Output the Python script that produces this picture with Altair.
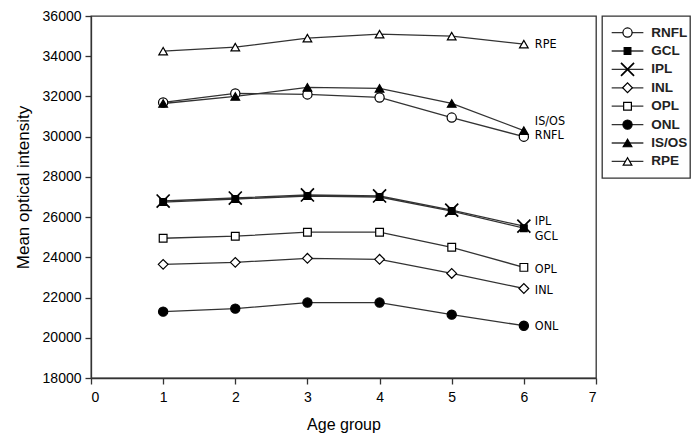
import altair as alt
import pandas as pd

ages = [1, 2, 3, 4, 5, 6]
series = ["RNFL", "GCL", "IPL", "INL", "OPL", "ONL", "IS/OS", "RPE"]

RNFL = [31700, 32150, 32100, 31950, 30950, 30000]
GCL = [26750, 26900, 27050, 27000, 26300, 25450]
IPL = [26800, 26950, 27100, 27050, 26350, 25550]
INL = [23650, 23750, 23950, 23900, 23200, 22450]
OPL = [24950, 25050, 25250, 25250, 24500, 23500]
ONL = [21300, 21450, 21750, 21750, 21150, 20600]
ISOS = [31650, 32000, 32450, 32400, 31650, 30300]
RPE = [34250, 34450, 34900, 35100, 35000, 34600]

values = {"RNFL": RNFL, "GCL": GCL, "IPL": IPL, "INL": INL, "OPL": OPL,
          "ONL": ONL, "IS/OS": ISOS, "RPE": RPE}

# styling (not data)
X_PATH = "M-1,-1L1,1M-1,1L1,-1"
style = {
    "RNFL": dict(shape="circle", fill="white", size=85, strokeWidth=1.2),
    "GCL": dict(shape="square", fill="black", size=45, strokeWidth=1.2),
    "IPL": dict(shape=X_PATH, fill="transparent", size=170, strokeWidth=1.7),
    "INL": dict(shape="diamond", fill="white", size=95, strokeWidth=1.2),
    "OPL": dict(shape="square", fill="white", size=60, strokeWidth=1.2),
    "ONL": dict(shape="circle", fill="black", size=85, strokeWidth=1.2),
    "IS/OS": dict(shape="triangle-up", fill="black", size=75, strokeWidth=1.2),
    "RPE": dict(shape="triangle-up", fill="white", size=75, strokeWidth=1.2),
}
label_dy = {"RNFL": -2, "GCL": 8, "IPL": -5, "INL": 1, "OPL": 2, "ONL": 0, "IS/OS": -10, "RPE": 0}

rows = []
for s in series:
    for a, v in zip(ages, values[s]):
        rows.append({"series": s, "age": a, "value": v})
df = pd.DataFrame(rows)

INK = "#333333"
FONT = "Liberation Sans"
NARROW = "DejaVu Sans Condensed, Liberation Sans"

xscale = alt.Scale(domain=[0, 7], nice=False, zero=False)
yscale = alt.Scale(domain=[18000, 36000], nice=False, zero=False)

x_enc = alt.X("age:Q", scale=xscale, title="Age group",
              axis=alt.Axis(values=list(range(0, 8)), format="d", grid=False))
y_enc = alt.Y("value:Q", scale=yscale, title="Mean optical intensity",
              axis=alt.Axis(values=list(range(18000, 36001, 2000)), format="d", grid=False,
                            titleY=171))

lines = alt.Chart(df).mark_line(color=INK, strokeWidth=1.3).encode(
    x=x_enc, y=y_enc, detail="series:N"
)

point_layers = []
label_layers = []
for s in series:
    d = df[df["series"] == s]
    st = style[s]
    point_layers.append(
        alt.Chart(d).mark_point(filled=True, stroke="black", opacity=1, **st).encode(
            x="age:Q", y="value:Q")
    )
    label_layers.append(
        alt.Chart(d[d["age"] == 6]).mark_text(align="left", baseline="middle", dx=11,
                                              dy=label_dy[s], font=NARROW, fontSize=12.5,
                                              color="black").encode(
            x="age:Q", y="value:Q", text="series:N")
    )

main = alt.layer(lines, *point_layers, *label_layers).properties(width=505, height=362)

# legend panel
leg_df = pd.DataFrame({"series": series})
leg_yscale = alt.Scale(type="point", padding=0.9, domain=series)
leg_x = alt.Scale(domain=[0, 1], nice=False, zero=False)
leg_rule = alt.Chart(leg_df).mark_rule(color=INK, strokeWidth=1.3).encode(
    x=alt.X("a:Q", scale=leg_x, axis=None), x2="b:Q",
    y=alt.Y("series:N", scale=leg_yscale, axis=None)
).transform_calculate(a="0.11", b="0.47")
leg_layers = [leg_rule]
for s in series:
    st = style[s]
    leg_layers.append(
        alt.Chart(leg_df[leg_df["series"] == s]).mark_point(
            filled=True, stroke="black", opacity=1, **st).encode(
            x=alt.X("m:Q", scale=leg_x, axis=None),
            y=alt.Y("series:N", scale=leg_yscale, axis=None)
        ).transform_calculate(m="0.29")
    )
leg_txt = alt.Chart(leg_df).mark_text(align="left", baseline="middle", font=FONT, fontSize=13.5,
                                      fontWeight="bold", color="#222222").encode(
    x=alt.X("t:Q", scale=leg_x, axis=None),
    y=alt.Y("series:N", scale=leg_yscale, axis=None), text="series:N"
).transform_calculate(t="0.56")
leg_layers.append(leg_txt)
legend = alt.layer(*leg_layers).properties(width=88, height=162)

chart = alt.hconcat(main, legend, spacing=3).resolve_scale(
    x="independent", y="independent"
).properties(
    padding={"left": 5, "right": 0, "top": 0, "bottom": 0},
    background="white",
).configure_view(
    stroke=INK, strokeWidth=1.3
).configure_axis(
    domainColor=INK, domainWidth=1.3, tickColor=INK, tickWidth=1.3, tickSize=6,
    labelFont=FONT, labelFontSize=14, labelColor="black", labelPadding=4,
    titleFont=FONT, titleFontWeight="normal", titleColor="black",
).configure_axisX(
    titleFontSize=16, titlePadding=12, labelPadding=6,
).configure_axisY(
    titleFontSize=17, titlePadding=10,
)

chart.save("out.html", embed_options={"renderer": "svg", "actions": False})
